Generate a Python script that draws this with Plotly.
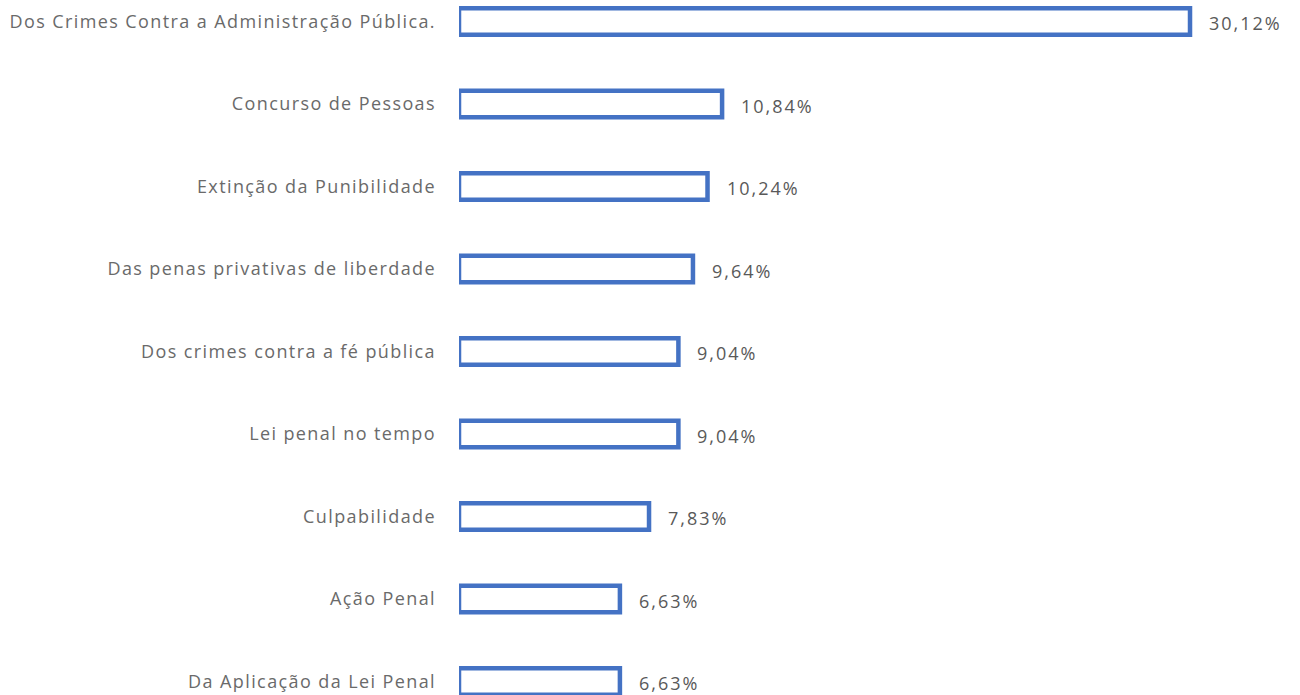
import plotly.graph_objects as go

categories = [
    "Da Aplicação da Lei Penal",
    "Ação Penal",
    "Culpabilidade",
    "Lei penal no tempo",
    "Dos crimes contra a fé pública",
    "Das penas privativas de liberdade",
    "Extinção da Punibilidade",
    "Concurso de Pessoas",
    "Dos Crimes Contra a Administração Pública.",
]
values = [6.63, 6.63, 7.83, 9.04, 9.04, 9.64, 10.24, 10.84, 30.12]
value_labels = ["6,63%", "6,63%", "7,83%", "9,04%", "9,04%", "9,64%", "10,24%", "10,84%", "30,12%"]

positions = list(range(len(categories)))
FONT = "Open Sans"
FSIZE = 18
LABEL_GRAY = "#6a6a6a"
VALUE_GRAY = "#595959"
BLUE = "#4472C4"


def spaced(s, px):
    return f'<span style="letter-spacing:{px}px">{s}</span>'


fig = go.Figure()
fig.add_trace(go.Bar(
    x=values,
    y=positions,
    orientation="h",
    width=0.32,
    marker=dict(color="white", line=dict(color=BLUE, width=4.5)),
    hoverinfo="skip",
))

for p, v, t in zip(positions, values, value_labels):
    fig.add_annotation(
        x=v, y=p, xref="x", yref="y", text=spaced(t, 2), showarrow=False,
        xanchor="left", yanchor="middle", xshift=17, yshift=-2,
        font=dict(family=FONT, size=FSIZE, color=VALUE_GRAY),
    )

fig.update_layout(
    width=1300, height=695, autosize=False,
    margin=dict(l=459, r=10, t=0, b=0),
    paper_bgcolor="white", plot_bgcolor="white",
    showlegend=False,
    font=dict(family=FONT, size=FSIZE, color=VALUE_GRAY),
)
fig.update_xaxes(range=[0, 34.24], visible=False, showgrid=False, zeroline=False)
fig.update_yaxes(
    range=[-0.164, 8.26],
    tickmode="array", tickvals=positions, ticktext=[spaced(c, 1.4) for c in categories],
    showgrid=False, zeroline=False, showline=False,
    ticklabelstandoff=22, automargin=False,
    tickfont=dict(family=FONT, size=FSIZE, color=LABEL_GRAY),
)

fig.write_html(
    "out.html",
    config={"displayModeBar": False, "staticPlot": True},
    post_script="document.body.style.margin='0';document.body.style.overflow='hidden';",
)
